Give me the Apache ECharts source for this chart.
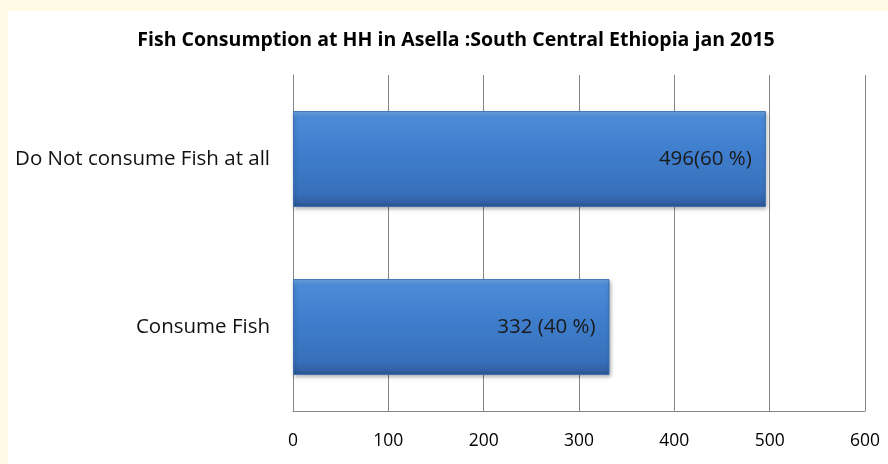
<!DOCTYPE html>
<html><head><meta charset="utf-8">
<script src="https://cdn.jsdelivr.net/npm/echarts@6/dist/echarts.min.js"></script>
<style>html,body{margin:0;padding:0;background:#FFF9E6;}
#wrap{position:absolute;left:8px;top:11px;width:880px;height:453px;background:#fff;}
#c{position:absolute;left:0;top:0;width:888px;height:464px;}</style>
</head><body><div id="wrap"></div><div id="c"></div>
<script>
const categories = ['Consume Fish', 'Do Not consume Fish at all'];
const values = [332, 496];
const valueLabels = ['332 (40 %)', '496(60 %)'];
const xTicks = [0, 100, 200, 300, 400, 500, 600];
const titleText = 'Fish Consumption at HH in Asella :South Central Ethiopia jan 2015';

const chart = echarts.init(document.getElementById('c'), null, {renderer: 'canvas'});
const FONT = 'Open Sans';
chart.setOption({
  backgroundColor: 'transparent',
  animation: false,
  title: {
    text: titleText, left: 451, top: 25, textAlign: 'center',
    textStyle: {fontFamily: FONT, fontWeight: 'bold', fontSize: 19.5, color: '#000'}
  },
  grid: {left: 293, right: 23, top: 75, bottom: 53, containLabel: false},
  xAxis: {
    type: 'value', min: xTicks[0], max: xTicks[xTicks.length - 1], interval: 100,
    axisLine: {show: true, lineStyle: {color: '#868686', width: 1}},
    axisTick: {show: false},
    axisLabel: {margin: 21, fontFamily: FONT, fontSize: 17.5, color: '#000',
      formatter: v => xTicks.includes(v) ? String(v) : ''},
    splitLine: {show: true, lineStyle: {color: '#868686', width: 1}}
  },
  yAxis: {
    type: 'category', data: categories,
    axisLine: {show: true, lineStyle: {color: '#868686', width: 1}},
    axisTick: {show: false},
    axisLabel: {margin: 23, fontFamily: FONT, fontSize: 20.5, color: '#111'}
  },
  series: [{
    type: 'bar',
    data: values,
    barWidth: '57%',
    itemStyle: {
      color: new echarts.graphic.LinearGradient(0, 0, 0, 1, [
        {offset: 0, color: '#74aaea'},
        {offset: 0.07, color: '#4a8ad6'},
        {offset: 0.4, color: '#3f7fce'},
        {offset: 0.85, color: '#3870bb'},
        {offset: 0.94, color: '#3264a8'},
        {offset: 1, color: '#2a538d'}
      ]),
      borderColor: '#3a6fb5', borderWidth: 1,
      shadowColor: 'rgba(0,0,0,0.35)', shadowBlur: 4, shadowOffsetX: 1, shadowOffsetY: 2
    },
    label: {
      show: true, position: 'insideRight', distance: 14,
      fontFamily: FONT, fontSize: 20.5, color: '#1a1a1a',
      formatter: p => valueLabels[p.dataIndex]
    }
  }]
});
</script></body></html>
